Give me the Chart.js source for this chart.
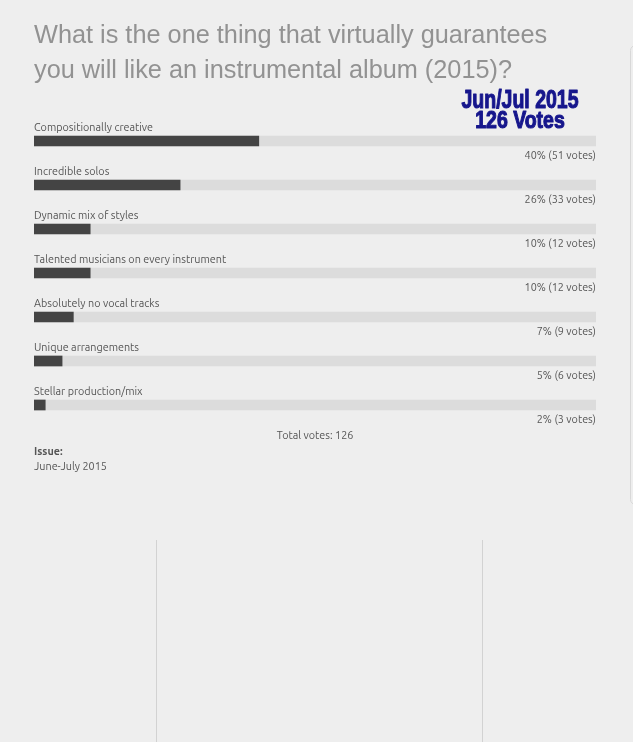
<!DOCTYPE html>
<html>
<head>
<meta charset="utf-8">
<script src="https://cdn.jsdelivr.net/npm/chart.js@4.4.1/dist/chart.umd.min.js"></script>
<style>
  html, body { margin: 0; padding: 0; background: #eeeeee; }
  #wrap { position: relative; width: 633px; height: 742px; overflow: hidden; }
</style>
</head>
<body>
<div id="wrap"><canvas id="c"></canvas></div>
<script>
// ---- data ----
const titleLines = ['What is the one thing that virtually guarantees', 'you will like an instrumental album (2015)?'];
const categories = [
  'Compositionally creative',
  'Incredible solos',
  'Dynamic mix of styles',
  'Talented musicians on every instrument',
  'Absolutely no vocal tracks',
  'Unique arrangements',
  'Stellar production/mix'
];
const percents = [40, 26, 10, 10, 7, 5, 2];
const votes = [51, 33, 12, 12, 9, 6, 3];
const totalVotes = 126;
const scaleMax = 100;
const stampLines = ['Jun/Jul 2015', '126 Votes'];
const issueLabel = 'Issue:';
const issueValue = 'June-July 2015';

const labelFont = '10.8px "Ubuntu", "Noto Sans", sans-serif';
const textColor = '#555555';

const pollText = {
  id: 'pollText',
  afterDatasetsDraw(chart) {
    const ctx = chart.ctx;
    const area = chart.chartArea;
    const y = chart.scales.y;
    ctx.save();
    ctx.font = labelFont;
    ctx.fillStyle = textColor;
    ctx.textBaseline = 'middle';
    categories.forEach((c, i) => {
      const py = y.getPixelForValue(i);
      ctx.textAlign = 'left';
      ctx.fillText(c, area.left, py - 13.5);
      ctx.textAlign = 'right';
      ctx.fillText(percents[i] + '% (' + votes[i] + ' votes)', area.right, py + 14);
    });
    // total votes
    ctx.textAlign = 'center';
    ctx.fillText('Total votes: ' + totalVotes, (area.left + area.right) / 2, area.bottom + 8);
    // issue
    ctx.textAlign = 'left';
    ctx.font = 'bold ' + labelFont;
    ctx.fillText(issueLabel, area.left, area.bottom + 24);
    ctx.font = labelFont;
    ctx.fillText(issueValue, area.left, area.bottom + 39);
    ctx.restore();
  },
  afterDraw(chart) {
    const ctx = chart.ctx;
    ctx.save();
    // stamp
    ctx.fillStyle = '#16168c';
    ctx.strokeStyle = '#16168c';
    ctx.lineWidth = 1.1;
    ctx.lineJoin = 'round';
    ctx.textAlign = 'center';
    ctx.textBaseline = 'middle';
    const stamp = [
      { t: stampLines[0], size: 25, sx: 0.78, y: 100 },
      { t: stampLines[1], size: 23.5, sx: 0.83, y: 121 }
    ];
    stamp.forEach(s => {
      ctx.save();
      ctx.translate(520, s.y);
      ctx.scale(s.sx, 1);
      ctx.font = 'bold ' + s.size + 'px "Liberation Sans", Arial, sans-serif';
      ctx.fillText(s.t, 0, 1);
      ctx.strokeText(s.t, 0, 1);
      ctx.restore();
    });
    // faint right panel border
    ctx.strokeStyle = '#d8d8d8';
    ctx.lineWidth = 1;
    ctx.beginPath();
    ctx.roundRect(630.5, 45.5, 40, 459, 5);
    ctx.stroke();
    // lower vertical dividers
    ctx.strokeStyle = '#d2d2d2';
    ctx.beginPath();
    ctx.moveTo(156.5, 540); ctx.lineTo(156.5, 742);
    ctx.moveTo(482.5, 540); ctx.lineTo(482.5, 742);
    ctx.stroke();
    ctx.restore();
  }
};

new Chart(document.getElementById('c'), {
  type: 'bar',
  data: {
    labels: categories,
    datasets: [
      {
        label: 'Share',
        data: percents,
        backgroundColor: '#444444',
        barThickness: 10,
        grouped: false
      },
      {
        label: 'Track',
        data: categories.map(() => scaleMax),
        backgroundColor: '#dcdcdc',
        barThickness: 10,
        grouped: false
      }
    ]
  },
  options: {
    indexAxis: 'y',
    responsive: true,
    maintainAspectRatio: false,
    animation: false,
    layout: { padding: { left: 34, right: 37, top: 0, bottom: 315 } },
    scales: {
      x: { display: false, min: 0, max: scaleMax },
      y: { display: false }
    },
    plugins: {
      legend: { display: false },
      tooltip: { enabled: false },
      title: {
        display: true,
        text: titleLines,
        align: 'start',
        color: '#929292',
        font: { family: '"Liberation Sans", Arial, sans-serif', size: 25.3, weight: 'normal', lineHeight: '35px' },
        padding: { top: 18.5, bottom: 30.5 }
      }
    }
  },
  plugins: [pollText]
});
</script>
</body>
</html>
